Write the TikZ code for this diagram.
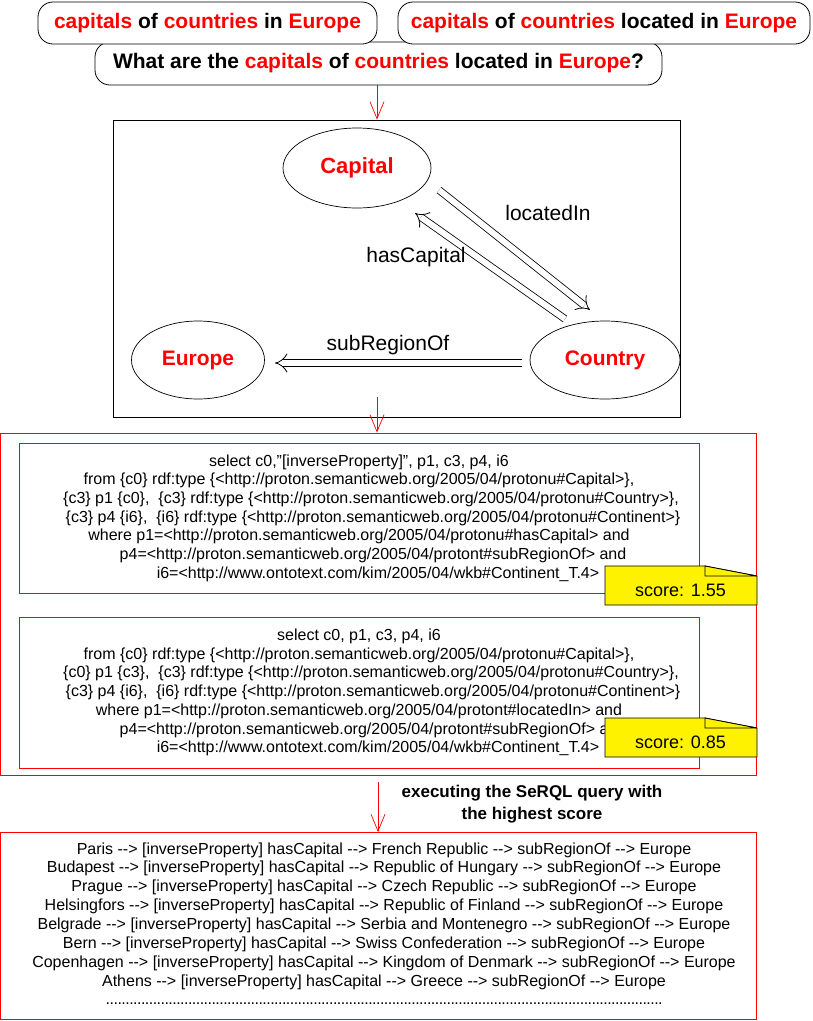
\documentclass[tikz,border=0pt]{standalone}
\usepackage{fontspec}
\setmainfont{Liberation Sans}
\usetikzlibrary{positioning,shapes,arrows.meta,calc}

\newcommand{\kw}[1]{\textcolor{red}{#1}}

\begin{document}
\begin{tikzpicture}[x=1pt, y=-1pt,
    qbox/.style={draw, rounded corners=15pt, fill=white, line width=0.8pt, inner sep=0pt,
        minimum height=42pt, font=\bfseries\fontsize{21}{24}\selectfont},
    cls/.style={draw, ellipse, line width=0.7pt, inner sep=0pt, text=red,
        font=\bfseries\fontsize{21}{24}\selectfont},
    lbl/.style={font=\fontsize{21}{24}\selectfont},
    dbl/.style={line width=0.8pt, double=white, double distance=6pt, -{Implies[length=8pt,width=18pt]}},
    redarrow/.style={red, line width=0.7pt, -{Straight Barb[length=17pt,width=14pt]}},
    sq/.style={draw=red, line width=0.8pt, inner sep=0pt, minimum width=680pt, align=center,
        font=\fontsize{16}{18.7}\selectfont},
    res/.style={font=\fontsize{16}{18.8}\selectfont, inner sep=0pt},
    note/.style={draw, fill=yellow, line width=0.8pt, line join=miter}
]
    \useasboundingbox (0,0) rectangle (813,1021);

    % Questions
    \node[qbox, minimum width=567pt, minimum height=43pt] (qq) at (378.5,63.5)
        {What are the \kw{capitals} of \kw{countries} located in \kw{Europe}?};
    \node[qbox, minimum width=339pt] (q1) at (207.5,23)
        {\kw{capitals} of \kw{countries} in \kw{Europe}};
    \node[qbox, minimum width=412pt] (q2) at (604,23)
        {\kw{capitals} of \kw{countries} located in \kw{Europe}};

    % Ontology graph
    \node[draw, line width=0.8pt, minimum width=567pt, minimum height=297pt] (kg) at (396.5,268.5) {};
    \node[cls, minimum width=148pt, minimum height=80pt, font=\bfseries\fontsize{22}{24}\selectfont] (cap) at (357,168) {Capital};
    \node[cls, minimum width=133pt, minimum height=78pt] (eur) at (198,360) {Europe};
    \node[cls, minimum width=150pt, minimum height=78pt] (cou) at (605,360) {Country};

    \draw[dbl] ([shift={(82,22)}]cap.center) -- ([shift={(-15,-50)}]cou.center);
    \draw[dbl] ([shift={(-40,-41)}]cou.center) -- ([shift={(58,45)}]cap.center);
    \draw[dbl] ([shift={(-83,3)}]cou.center) -- ([shift={(77,3)}]eur.center);

    \node[lbl] (li) at (548,213) {locatedIn};
    \node[lbl] (hc) at (416,257) {hasCapital};
    \node[lbl] (sr) at (388,345) {subRegionOf};

    \draw[redarrow] (qq.south -| 377,0) -- (kg.north -| 377,0);

    % SeRQL queries
    \node[draw=red, line width=0.8pt, minimum width=756pt, minimum height=342pt] (qs) at (378.5,604) {};
    \coordinate (a2) at (377,397);
    \draw[redarrow] (a2) -- (a2 |- qs.north);

    \node[sq, minimum height=150pt] (s1) at (359,518) {%
        select c0,"[inverseProperty]", p1, c3, p4, i6\\
        from \{c0\} rdf:type \{<http://proton.semanticweb.org/2005/04/protonu\#Capital>\},\\
        \hspace*{24pt}\{c3\} p1 \{c0\}, \ \{c3\} rdf:type \{<http://proton.semanticweb.org/2005/04/protonu\#Country>\},\\
        \hspace*{28pt}\{c3\} p4 \{i6\}, \ \{i6\} rdf:type \{<http://proton.semanticweb.org/2005/04/protonu\#Continent>\}\\
        where p1=<http://proton.semanticweb.org/2005/04/protonu\#hasCapital> and\\
        \hspace*{28pt}p4=<http://proton.semanticweb.org/2005/04/protont\#subRegionOf> and\\
        \hspace*{38pt}i6=<http://www.ontotext.com/kim/2005/04/wkb\#Continent\_T.4>};
    \node[sq, minimum height=151pt] (s2) at (359,692.5) {%
        select c0, p1, c3, p4, i6\\
        from \{c0\} rdf:type \{<http://proton.semanticweb.org/2005/04/protonu\#Capital>\},\\
        \hspace*{24pt}\{c0\} p1 \{c3\}, \ \{c3\} rdf:type \{<http://proton.semanticweb.org/2005/04/protonu\#Country>\},\\
        \hspace*{28pt}\{c3\} p4 \{i6\}, \ \{i6\} rdf:type \{<http://proton.semanticweb.org/2005/04/protonu\#Continent>\}\\
        where p1=<http://proton.semanticweb.org/2005/04/protont\#locatedIn> and\\
        \hspace*{28pt}p4=<http://proton.semanticweb.org/2005/04/protont\#subRegionOf> and\\
        \hspace*{38pt}i6=<http://www.ontotext.com/kim/2005/04/wkb\#Continent\_T.4>};

    % Scores
    \foreach \i/\y/\s in {1/566/1.55, 2/718/0.85} {
        \draw[note] (605,\y) -- (705,\y) -- (757,\y+10) -- (757,\y+39) -- (605,\y+39) -- cycle;
        \draw[note] (705,\y) -- (705,\y+10) -- (757,\y+10) -- cycle;
        \node[font=\fontsize{18}{20}\selectfont] (n\i) at (680.5,\y+24.5) {score: \s};
    }

    % Results
    \coordinate (a3) at (378,782);
    \node[draw=red, line width=0.8pt, minimum width=756pt, minimum height=187pt] (rs) at (378.5,926) {};
    \draw[redarrow] (a3) -- (a3 |- rs.north);
    \node[align=center, font=\bfseries\fontsize{17}{22}\selectfont] (ex) at (532,804)
        {executing the SeRQL query with\\the highest score};

    \foreach \i/\city/\state in {0/Paris/French Republic, 1/Budapest/Republic of Hungary,
        2/Prague/Czech Republic, 3/Helsingfors/Republic of Finland, 4/Belgrade/Serbia and Montenegro,
        5/Bern/Swiss Confederation, 6/Copenhagen/Kingdom of Denmark, 7/Athens/Greece} {
        \node[res] (r\i) at (384,850+\i*18.85)
            {\city{} -{}-> [inverseProperty] hasCapital -{}-> \state{} -{}-> subRegionOf -{}-> Europe};
    }
    \node[res] (dots) at (384,1004) {\hbox to 556pt{\xleaders\hbox to 3.9pt{\hss.\hss}\hfill}};
\end{tikzpicture}
\end{document}
